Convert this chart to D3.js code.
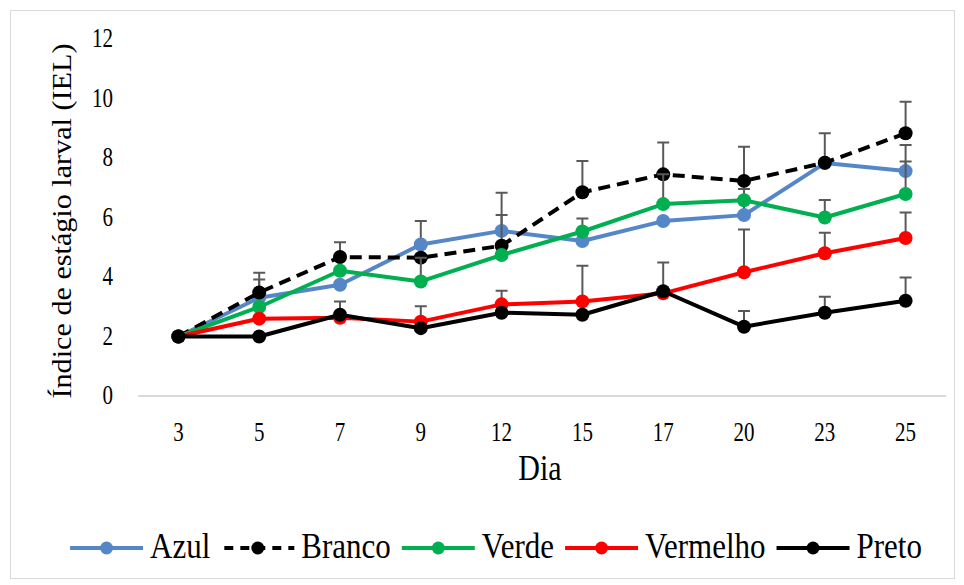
<!DOCTYPE html>
<html>
<head>
<meta charset="utf-8">
<script src="https://cdn.jsdelivr.net/npm/d3@7"></script>
<style>
  html, body { margin: 0; padding: 0; background: #fff; }
  svg text { font-family: 'Liberation Serif', 'Times New Roman', serif; fill: #000; }
</style>
</head>
<body>
<div id="chart"></div>
<script>
'use strict';

// days of observation (categories)
var dias = ['3', '5', '7', '9', '12', '15', '17', '20', '23', '25'];
var yTicks = [0, 2, 4, 6, 8, 10, 12];

// mean IEL per colour
var azul     = [2.0, 3.30, 3.74, 5.09, 5.55, 5.21, 5.88, 6.08, 7.83, 7.56];
var branco   = [2.0, 3.48, 4.67, 4.65, 5.05, 6.85, 7.45, 7.23, 7.84, 8.83];
var verde    = [2.0, 2.99, 4.21, 3.85, 4.74, 5.53, 6.45, 6.58, 6.00, 6.79];
var vermelho = [2.0, 2.60, 2.63, 2.50, 3.08, 3.18, 3.45, 4.16, 4.80, 5.31];
var preto    = [2.0, 2.00, 2.73, 2.28, 2.80, 2.73, 3.52, 2.33, 2.80, 3.20];

// upper error bars (0 = hidden under the marker)
var azulErr     = [0, 0.62, 0, 0.79, 1.28, 0.76, 0, 0.88, 0, 0.88];
var brancoErr   = [0, 0.66, 0.50, 0, 1.03, 1.05, 1.07, 1.15, 0.99, 1.06];
var verdeErr    = [0, 0, 0, 0.80, 0, 0, 1.00, 0, 0.59, 1.09];
var vermelhoErr = [0, 0, 0, 0.52, 0.46, 1.20, 0, 1.44, 0.69, 0.86];
var pretoErr    = [0, 0, 0.45, 0, 0, 0, 0.97, 0.53, 0.54, 0.78];

var series = [
  { name: 'Azul', values: azul, err: azulErr, color: '#5586c8', dash: null },
  { name: 'Branco', values: branco, err: brancoErr, color: '#000', dash: '12,7' },
  { name: 'Verde', values: verde, err: verdeErr, color: '#00b050', dash: null },
  { name: 'Vermelho', values: vermelho, err: vermelhoErr, color: '#ff0000', dash: null },
  { name: 'Preto', values: preto, err: pretoErr, color: '#000', dash: null }
];

var W = 964, H = 585;
var plotL = 138, plotR = 946, plotT = 39, plotB = 396;
var errColor = '#595959';
var markerR = 7;

var svg = d3.select('#chart')
  .append('svg')
  .attr('width', W)
  .attr('height', H);

// frame around the chart
svg.append('rect')
  .attr('x', 10.5)
  .attr('y', 10.5)
  .attr('width', 944)
  .attr('height', 568)
  .style('fill', 'none')
  .style('stroke', '#d9d9d9')
  .style('stroke-width', 1);

var x = d3.scaleBand().domain(dias).range([plotL, plotR]).padding(0);
var y = d3.scaleLinear().domain([0, 12]).range([plotB, plotT]);
var cx = function (d) { return x(d) + x.bandwidth() / 2.0; };

// text in the reference is a bit taller than wide
var stretchText = function stretchText(sel, px, py, k) {
  return sel.attr('transform', 'translate(' + px + ',' + py + ') scale(1,' + k + ')');
};

/* Axes */

var yAxis = d3.axisLeft(y).tickValues(yTicks).tickSize(0).tickPadding(0);
var gy = svg.append('g').attr('transform', 'translate(113,0)').call(yAxis);
gy.select('.domain').remove();
gy.selectAll('.tick text')
  .attr('x', null).attr('dy', null)
  .attr('font-size', 21)
  .attr('text-anchor', 'end')
  .each(function (d) {
    stretchText(d3.select(this), 0, 7.5, 1.3);
  });

var xAxis = d3.axisBottom(x).tickSize(0).tickPadding(0);
var gx = svg.append('g').attr('transform', 'translate(0,' + plotB + ')').call(xAxis);
gx.select('.domain')
  .attr('d', 'M' + plotL + ',0H' + plotR)
  .style('stroke', '#d9d9d9')
  .style('stroke-width', 2);
gx.selectAll('.tick text')
  .attr('y', null).attr('dy', null)
  .attr('font-size', 21)
  .each(function () {
    stretchText(d3.select(this), 0, 45, 1.3);
  });

stretchText(svg.append('text'), 540, 480, 1.2)
  .attr('text-anchor', 'middle')
  .attr('font-size', 30)
  .text('Dia');

svg.append('text')
  .attr('transform', 'translate(71,221) rotate(-90)')
  .attr('text-anchor', 'middle')
  .attr('font-size', 27)
  .attr('textLength', 355)
  .attr('lengthAdjust', 'spacingAndGlyphs')
  .text('Índice de estágio larval (IEL)');

/* Series */

var line = d3.line()
  .x(function (d, i) { return cx(dias[i]); })
  .y(function (d) { return y(d); });

series.forEach(function (s) {
  var g = svg.append('g');

  g.selectAll('.err')
    .data(s.values.map(function (v, i) { return { i: i, v: v, e: s.err[i] }; })
      .filter(function (d) { return d.e > 0; }))
    .enter()
    .append('path')
    .attr('d', function (d) {
      var px = cx(dias[d.i]), top = y(d.v + d.e);
      return 'M' + px + ',' + y(d.v) + 'V' + top + 'M' + (px - 6) + ',' + top + 'H' + (px + 6);
    })
    .style('fill', 'none')
    .style('stroke', errColor)
    .style('stroke-width', 2);

  g.append('path')
    .attr('d', line(s.values))
    .style('fill', 'none')
    .style('stroke', s.color)
    .style('stroke-width', 4)
    .style('stroke-dasharray', s.dash)
    .style('stroke-linejoin', 'round');

  g.selectAll('circle')
    .data(s.values)
    .enter()
    .append('circle')
    .attr('cx', function (d, i) { return cx(dias[i]); })
    .attr('cy', function (d) { return y(d); })
    .attr('r', markerR)
    .style('fill', s.color);
});

/* Legend */

var legendY = 548;
var sampleW = 73, sampleGap = 7, itemGap = 11;
var legend = svg.append('g');
var lx = 0;

series.forEach(function (s) {
  var item = legend.append('g').attr('transform', 'translate(' + lx + ',0)');
  item.append('line')
    .attr('x1', 0).attr('x2', sampleW)
    .attr('y1', legendY).attr('y2', legendY)
    .style('stroke', s.color)
    .style('stroke-width', 4)
    .style('stroke-dasharray', s.dash ? '9,7' : null)
    .style('stroke-dashoffset', s.dash ? -3 : null);
  item.append('circle')
    .attr('cx', sampleW / 2.0).attr('cy', legendY)
    .attr('r', 6.5)
    .style('fill', s.color);
  var t = stretchText(item.append('text'), sampleW + sampleGap, legendY + 10, 1.15)
    .attr('font-size', 31)
    .text(s.name);
  lx += sampleW + sampleGap + t.node().getComputedTextLength() + itemGap;
});

var legendW = lx - itemGap;
legend.attr('transform', 'translate(' + (496 - legendW / 2.0) + ',0)');
</script>
</body>
</html>
